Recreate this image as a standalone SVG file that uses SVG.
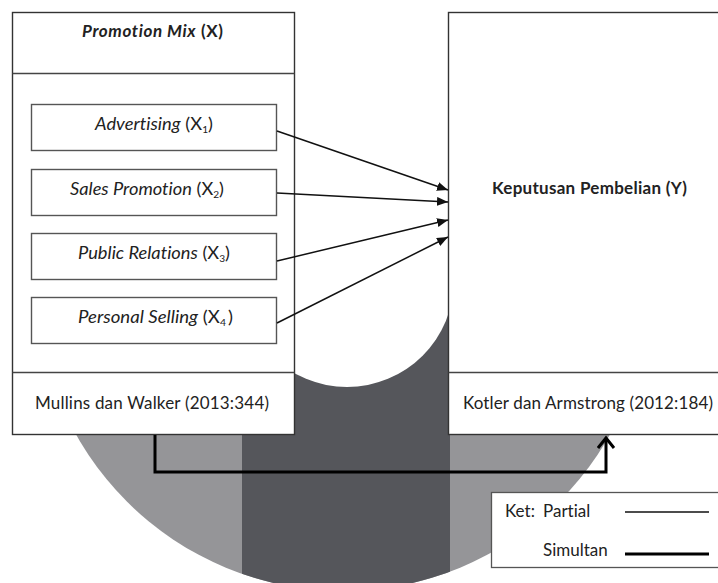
<svg xmlns="http://www.w3.org/2000/svg" width="718" height="583" viewBox="0 0 718 583">
  <style>
    text { font-family: "Lato", "Liberation Sans", sans-serif; fill: #222; font-size: 17px; font-variant-ligatures: none; }
    .lbl { font-size: 18px; }
    .b { font-weight: bold; }
    .i { font-style: italic; }
    .sub { font-size: 10px; }
    .frame { fill: #fff; stroke: #333; stroke-width: 1.4; }
    .item { fill: #fff; stroke: #555; stroke-width: 1.4; }
    .div { stroke: #444; stroke-width: 1.3; }
    .partial { stroke: #111; stroke-width: 1.5; fill: none; }
    .simultan { stroke: #000; stroke-width: 3; fill: none; }
  </style>
  <defs>
    <clipPath id="disc">
      <circle cx="343" cy="285" r="306"/>
    </clipPath>
    <marker id="tri" markerUnits="userSpaceOnUse" markerWidth="11" markerHeight="9" refX="11" refY="4.5" orient="auto">
      <path d="M0,0 L11,4.5 L0,9 z" fill="#111"/>
    </marker>
    <marker id="open" markerUnits="userSpaceOnUse" markerWidth="14" markerHeight="20" refX="11" refY="9" orient="auto">
      <path d="M1,1 L11,9 L1,17" fill="none" stroke="#000" stroke-width="3"/>
    </marker>
  </defs>

  <!-- background disc with dark band and white cut-out -->
  <g id="backdrop">
    <circle cx="343" cy="285" r="306" fill="#959598"/>
    <rect x="242" y="0" width="208" height="600" fill="#55565b" clip-path="url(#disc)"/>
    <rect x="0" y="0" width="718" height="280" fill="#fff"/>
    <circle cx="347" cy="280" r="107" fill="#fff"/>
  </g>

  <!-- Promotion Mix (X) -->
  <g id="promotion-mix">
    <rect class="frame" x="12.5" y="12.5" width="282" height="422"/>
    <line class="div" x1="12.5" y1="73.5" x2="294.5" y2="73.5"/>
    <line class="div" x1="12.5" y1="372.5" x2="294.5" y2="372.5"/>
    <text class="b" x="82" y="37" textLength="141"><tspan class="i">Promotion Mix</tspan> (X)</text>
    <text x="35" y="409" textLength="234">Mullins dan Walker (2013:344)</text>
  </g>

  <g id="advertising">
    <rect class="item" x="31.5" y="104.5" width="245" height="46"/>
    <text class="lbl" x="95" y="130" textLength="118" lengthAdjust="spacingAndGlyphs"><tspan class="i">Advertising</tspan> (X<tspan class="sub" dy="3">1</tspan><tspan dy="-3">)</tspan></text>
  </g>
  <g id="sales-promotion">
    <rect class="item" x="31.5" y="169.5" width="245" height="46"/>
    <text class="lbl" x="70" y="195" textLength="154" lengthAdjust="spacingAndGlyphs"><tspan class="i">Sales Promotion</tspan> (X<tspan class="sub" dy="3">2</tspan><tspan dy="-3">)</tspan></text>
  </g>
  <g id="public-relations">
    <rect class="item" x="31.5" y="233.5" width="245" height="46"/>
    <text class="lbl" x="78" y="259" textLength="152" lengthAdjust="spacingAndGlyphs"><tspan class="i">Public Relations</tspan> (X<tspan class="sub" dy="3">3</tspan><tspan dy="-3">)</tspan></text>
  </g>
  <g id="personal-selling">
    <rect class="item" x="31.5" y="297.5" width="245" height="46"/>
    <text class="lbl" x="78" y="323" textLength="155" lengthAdjust="spacingAndGlyphs"><tspan class="i">Personal Selling</tspan> (X<tspan class="sub" dy="3">4</tspan><tspan dy="-3" dx="2">)</tspan></text>
  </g>

  <!-- Keputusan Pembelian (Y) -->
  <g id="keputusan-pembelian">
    <rect class="frame" x="448.5" y="12.5" width="290" height="422"/>
    <line class="div" x1="448.5" y1="372.5" x2="718" y2="372.5"/>
    <text class="b" x="492" y="194" textLength="195">Keputusan Pembelian (Y)</text>
    <text x="463" y="409" textLength="250">Kotler dan Armstrong (2012:184)</text>
  </g>

  <!-- connectors -->
  <g id="connectors">
    <line class="partial" x1="277" y1="131" x2="448" y2="190" marker-end="url(#tri)"/>
    <line class="partial" x1="277" y1="193" x2="448" y2="202" marker-end="url(#tri)"/>
    <line class="partial" x1="277" y1="261" x2="448" y2="220" marker-end="url(#tri)"/>
    <line class="partial" x1="277" y1="323" x2="448" y2="237" marker-end="url(#tri)"/>
    <polyline class="simultan" points="155,435 155,472 606,472 606,438" marker-end="url(#open)"/>
  </g>

  <!-- legend -->
  <g id="legend">
    <rect x="491.5" y="492.5" width="240" height="75" fill="#fff" stroke="#555" stroke-width="1.3"/>
    <text x="505" y="517">Ket:<tspan x="543">Partial</tspan></text>
    <text x="543" y="556">Simultan</text>
    <line class="partial" x1="625" y1="512" x2="709" y2="512"/>
    <line class="simultan" x1="625" y1="554" x2="709" y2="554" stroke-width="3.5"/>
  </g>
</svg>
